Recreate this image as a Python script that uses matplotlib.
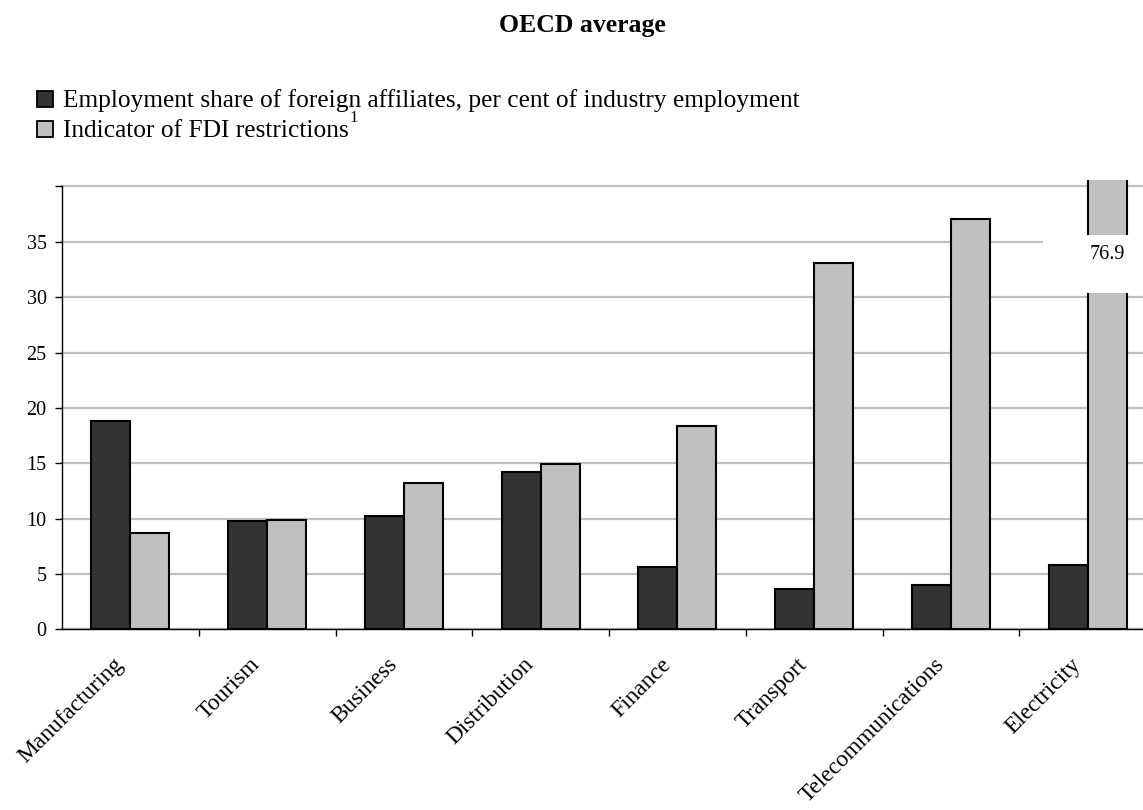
import matplotlib
matplotlib.use("Agg")
import matplotlib.pyplot as plt
from matplotlib.patches import Rectangle
from matplotlib.transforms import ScaledTranslation
import numpy as np

plt.rcParams['font.family'] = ['Liberation Serif', 'DejaVu Serif']
plt.rcParams['font.size'] = 14

categories = ["Manufacturing", "Tourism", "Business", "Distribution",
              "Finance", "Transport", "Telecommunications", "Electricity"]
employment_share = [18.8, 9.8, 10.2, 14.2, 5.6, 3.6, 4.0, 5.8]
fdi_restrictions = [8.7, 9.9, 13.2, 14.9, 18.4, 33.1, 37.1, 76.9]
yticks = [0, 5, 10, 15, 20, 25, 30, 35, 40]
ytick_labels = ["0", "5", "10", "15", "20", "25", "30", "35", ""]
title = "OECD average"
legend_labels = ["Employment share of foreign affiliates, per cent of industry employment",
                 "Indicator of FDI restrictions"]

dark = "#333333"
light = "#c0c0c0"

W, H = 1143, 810
fig = plt.figure(figsize=(W / 100, H / 100), dpi=100)
left, right, bottom, top = 62, 1156, 629.3, 186.5
ax = fig.add_axes([left / W, 1 - bottom / H, (right - left) / W, (bottom - top) / H])

x = np.arange(len(categories))
bw = 0.285
bars1 = ax.bar(x - bw / 2, employment_share, bw, color=dark, edgecolor="black", linewidth=1.5, zorder=3)
bars2 = ax.bar(x + bw / 2, fdi_restrictions, bw, color=light, edgecolor="black", linewidth=1.5, zorder=3)

ax.set_xlim(-0.5, len(categories) - 0.5)
ax.set_ylim(0, 40)

# the off-scale bar runs a little past the top gridline
off = bars2[-1]
off.set_clip_path(Rectangle((-0.5, 0), len(categories), 40.55, transform=ax.transData))

# axis break with the bar's value
ax.add_patch(Rectangle((6.677, 30.35), 1.0, 5.25, facecolor="white", edgecolor="none", zorder=4))
ax.text(x[-1] + bw / 2, 33.9, f"{fdi_restrictions[-1]:.1f}", ha="center", va="center",
        fontsize=14.5, zorder=5)

ax.set_yticks(yticks)
ax.set_yticklabels(ytick_labels, fontsize=14.5)
ax.yaxis.grid(True, color="#c0c0c0", linewidth=1.6)
ax.set_axisbelow(True)
ax.tick_params(axis="y", direction="out", length=5, width=1, pad=6, colors="black")
for gl in ax.get_ygridlines():
    gl.set_clip_on(False)

ax.set_xticks(x)
ax.set_xticklabels(categories, rotation=45, ha="right", va="center", rotation_mode="anchor",
                   fontsize=16.8)
ax.set_xticks(np.arange(0.5, len(categories) - 0.5, 1), minor=True)
ax.tick_params(axis="x", which="major", length=0, pad=23)
ax.tick_params(axis="x", which="minor", direction="out", length=5, width=1, color="black")
shift = ScaledTranslation(-10 / 100, 0, fig.dpi_scale_trans)
for lab in ax.get_xticklabels():
    lab.set_transform(lab.get_transform() + shift)

for s in ["top", "right"]:
    ax.spines[s].set_visible(False)
ax.spines["left"].set_linewidth(1)
ax.spines["bottom"].set_linewidth(1)

fig.text(582.5 / W, 1 - 32.3 / H, title, ha="center", va="baseline", fontsize=18.5, fontweight="bold")

# legend
for i, (lab, col) in enumerate(zip(legend_labels, [dark, light])):
    base = 107 + i * 30
    fig.patches.append(Rectangle((37 / W, 1 - base / H), 16 / W, 16 / H,
                                 facecolor=col, edgecolor="black", linewidth=1.3,
                                 transform=fig.transFigure, figure=fig))
    t = fig.text(63 / W, 1 - base / H, lab, ha="left", va="baseline", fontsize=18.3)
    if i == 1:
        fig.canvas.draw()
        bb = t.get_window_extent()
        fig.text(bb.x1 / W + 1 / W, 1 - (base - 15) / H, "1", ha="left", va="baseline", fontsize=12)

fig.savefig("out.png", dpi=100)
